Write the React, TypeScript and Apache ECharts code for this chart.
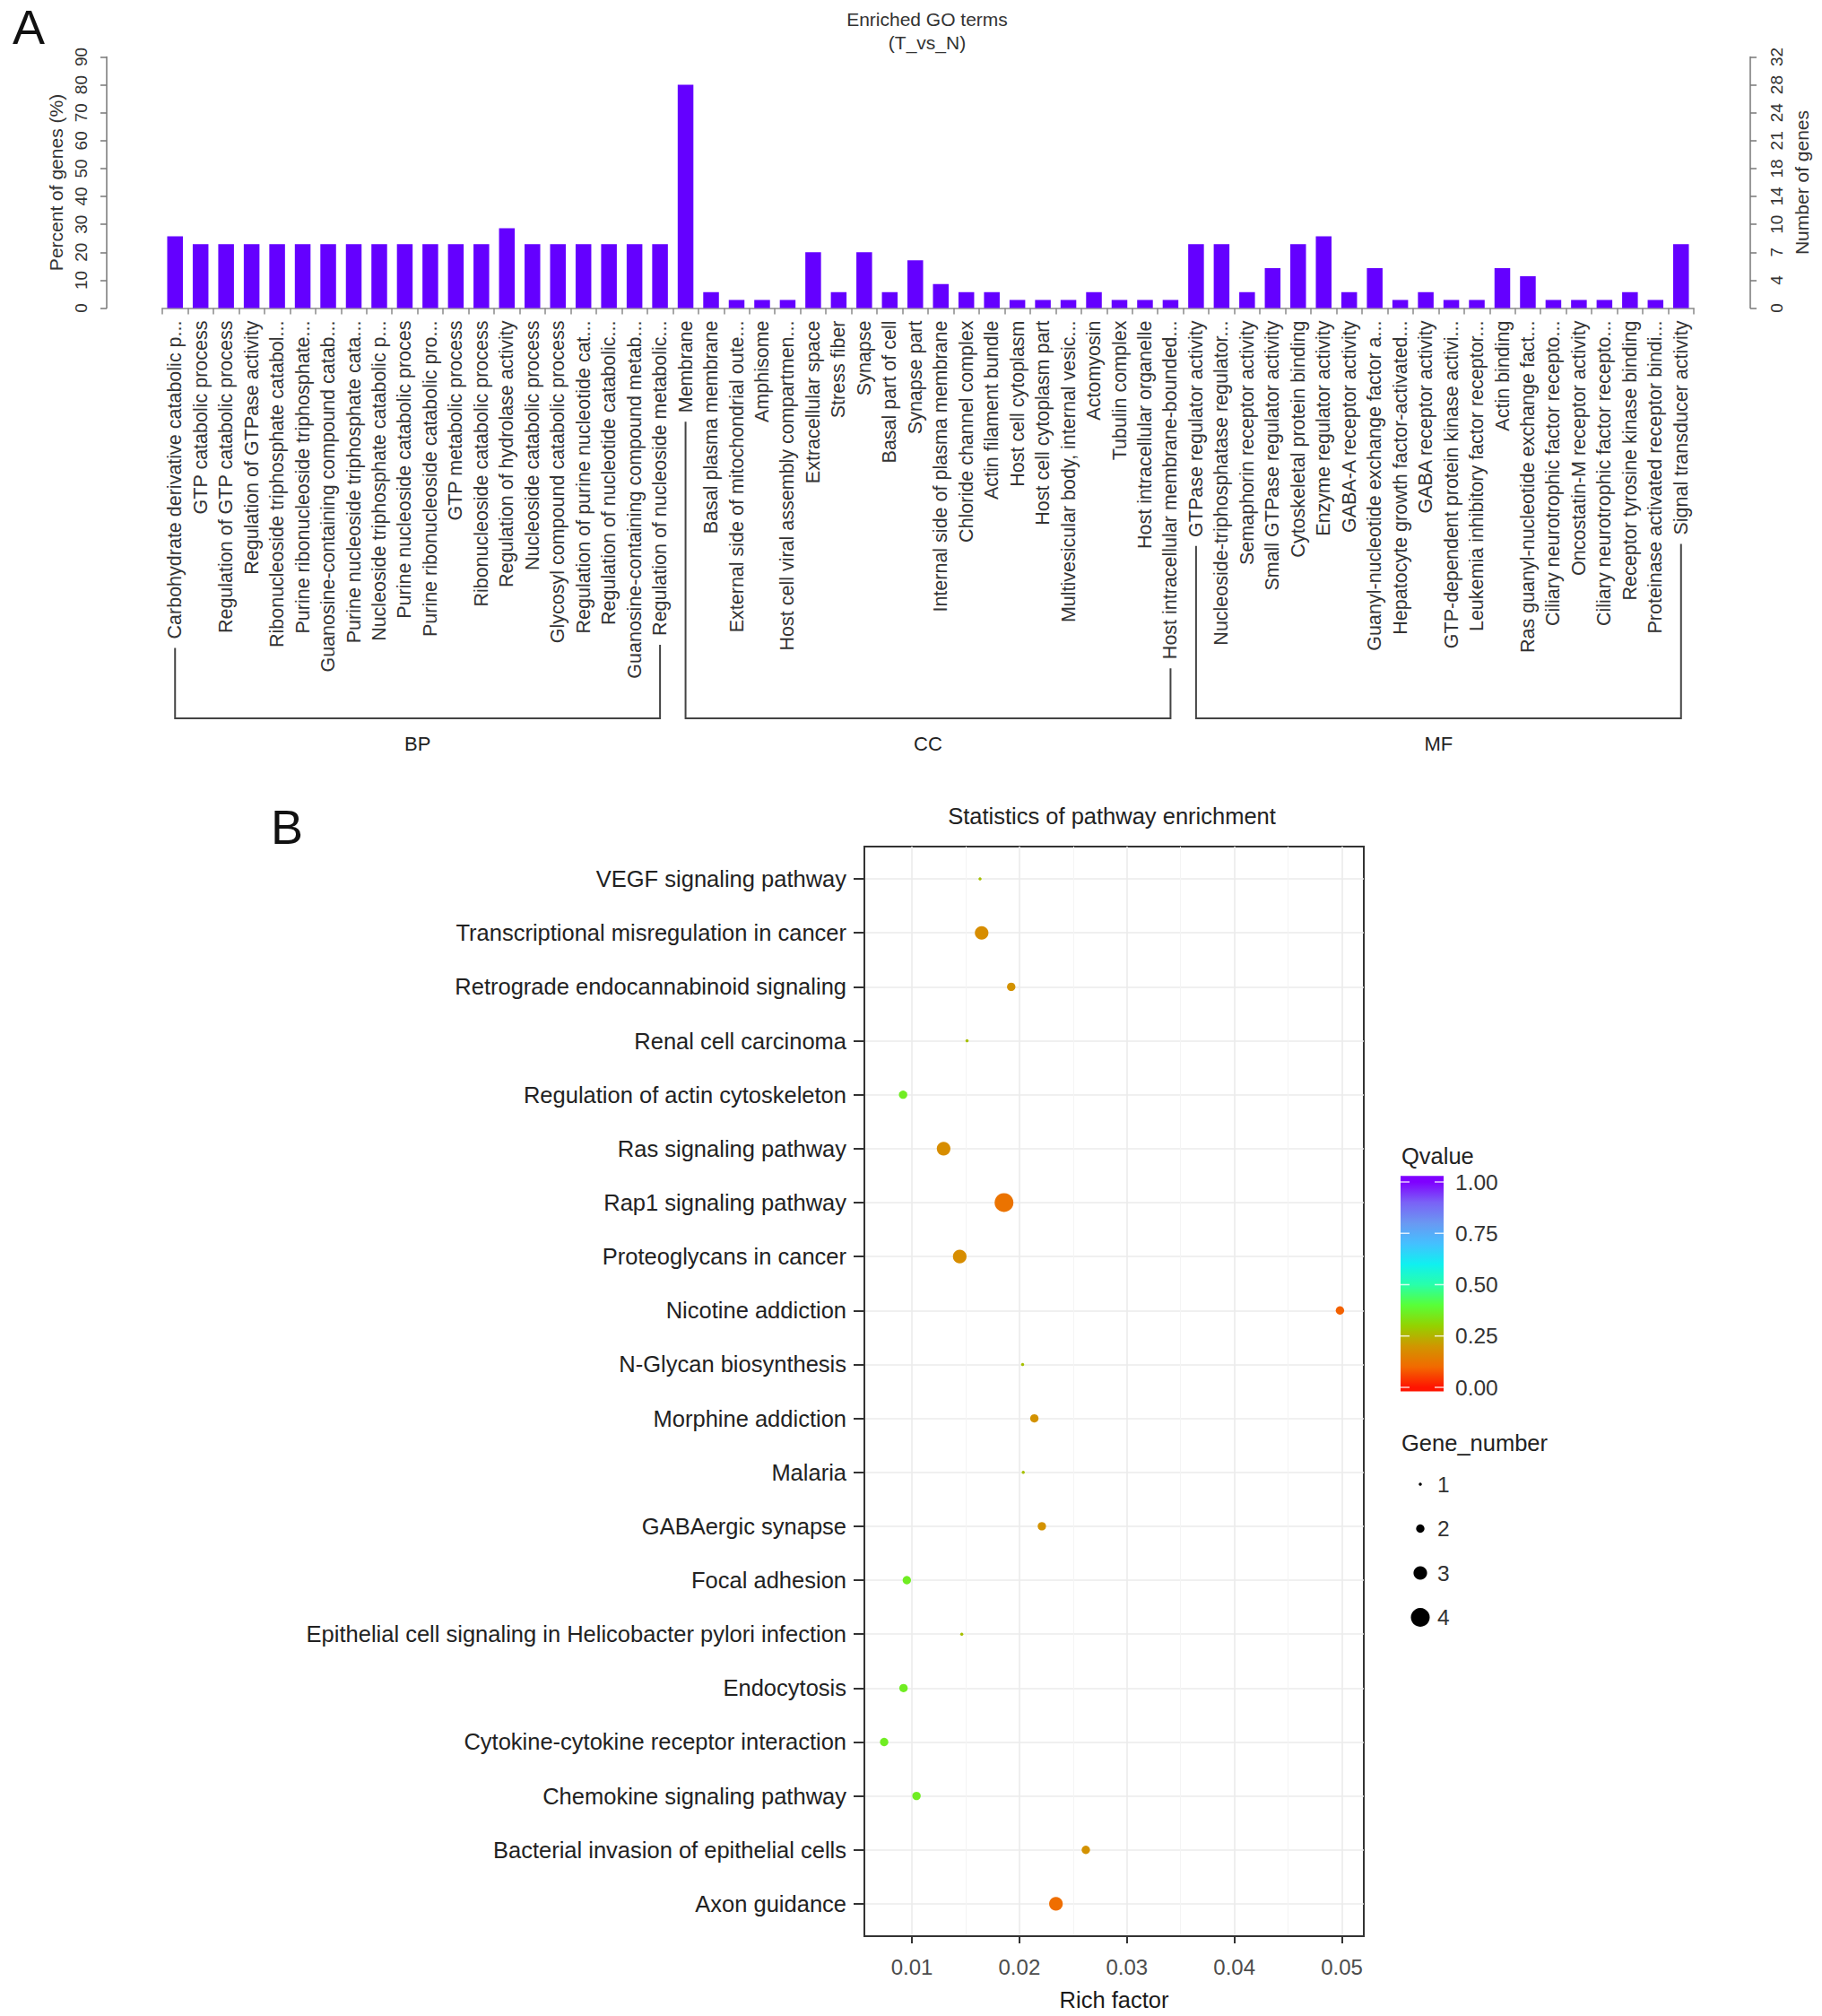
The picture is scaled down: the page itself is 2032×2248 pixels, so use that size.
import React, { useEffect, useRef } from "react";
import * as echarts from "echarts";

// ---------- Panel A data ----------
const goCategories = [
  "Carbohydrate derivative catabolic p...",
  "GTP catabolic process",
  "Regulation of GTP catabolic process",
  "Regulation of GTPase activity",
  "Ribonucleoside triphosphate catabol...",
  "Purine ribonucleoside triphosphate...",
  "Guanosine-containing compound catab...",
  "Purine nucleoside triphosphate cata...",
  "Nucleoside triphosphate catabolic p...",
  "Purine nucleoside catabolic proces",
  "Purine ribonucleoside catabolic pro...",
  "GTP metabolic process",
  "Ribonucleoside catabolic process",
  "Regulation of hydrolase activity",
  "Nucleoside catabolic process",
  "Glycosyl compound catabolic process",
  "Regulation of purine nucleotide cat...",
  "Regulation of nucleotide catabolic...",
  "Guanosine-containing compound metab...",
  "Regulation of nucleoside metabolic...",
  "Membrane",
  "Basal plasma membrane",
  "External side of mitochondrial oute...",
  "Amphisome",
  "Host cell viral assembly compartmen...",
  "Extracellular space",
  "Stress fiber",
  "Synapse",
  "Basal part of cell",
  "Synapse part",
  "Internal side of plasma membrane",
  "Chloride channel complex",
  "Actin filament bundle",
  "Host cell cytoplasm",
  "Host cell cytoplasm part",
  "Multivesicular body, internal vesic...",
  "Actomyosin",
  "Tubulin complex",
  "Host intracellular organelle",
  "Host intracellular membrane-bounded...",
  "GTPase regulator activity",
  "Nucleoside-triphosphatase regulator...",
  "Semaphorin receptor activity",
  "Small GTPase regulator activity",
  "Cytoskeletal protein binding",
  "Enzyme regulator activity",
  "GABA-A receptor activity",
  "Guanyl-nucleotide exchange factor a...",
  "Hepatocyte growth factor-activated...",
  "GABA receptor activity",
  "GTP-dependent protein kinase activi...",
  "Leukemia inhibitory factor receptor...",
  "Actin binding",
  "Ras guanyl-nucleotide exchange fact...",
  "Ciliary neurotrophic factor recepto...",
  "Oncostatin-M receptor activity",
  "Ciliary neurotrophic factor recepto...",
  "Receptor tyrosine kinase binding",
  "Proteinase activated receptor bindi...",
  "Signal transducer activity",
];

const goPercentBP = [25.7, 22.9, 22.9, 22.9, 22.9, 22.9, 22.9, 22.9, 22.9, 22.9, 22.9, 22.9, 22.9, 28.6, 22.9, 22.9, 22.9, 22.9, 22.9, 22.9];
const goPercentCC = [80, 5.7, 2.9, 2.9, 2.9, 20, 5.7, 20, 5.7, 17.1, 8.6, 5.7, 5.7, 2.9, 2.9, 2.9, 5.7, 2.9, 2.9, 2.9];
const goPercentMF = [22.9, 22.9, 5.7, 14.3, 22.9, 25.7, 5.7, 14.3, 2.9, 5.7, 2.9, 2.9, 14.3, 11.4, 2.9, 2.9, 2.9, 5.7, 2.9, 22.9];
const goPercent = [...goPercentBP, ...goPercentCC, ...goPercentMF];

const goGroupNames = ["BP", "CC", "MF"];
const goGroupSizes = [20, 20, 20];

const percentMax = 90;
const percentStep = 10;
const geneCountTickLabels = ["0", "4", "7", "10", "14", "18", "21", "24", "28", "32"];

// ---------- Panel B data (top to bottom as displayed) ----------
const pathways = [
  "VEGF signaling pathway",
  "Transcriptional misregulation in cancer",
  "Retrograde endocannabinoid signaling",
  "Renal cell carcinoma",
  "Regulation of actin cytoskeleton",
  "Ras signaling pathway",
  "Rap1 signaling pathway",
  "Proteoglycans in cancer",
  "Nicotine addiction",
  "N-Glycan biosynthesis",
  "Morphine addiction",
  "Malaria",
  "GABAergic synapse",
  "Focal adhesion",
  "Epithelial cell signaling in Helicobacter pylori infection",
  "Endocytosis",
  "Cytokine-cytokine receptor interaction",
  "Chemokine signaling pathway",
  "Bacterial invasion of epithelial cells",
  "Axon guidance",
];
const richFactor = [0.01634, 0.01649, 0.01924, 0.01513, 0.00918, 0.01295, 0.01857, 0.01445, 0.04982, 0.0203, 0.02139, 0.02036, 0.02209, 0.00953, 0.01464, 0.00922, 0.00742, 0.01043, 0.02618, 0.0234];
const geneNumber = [1, 3, 2, 1, 2, 3, 4, 3, 2, 1, 2, 1, 2, 2, 1, 2, 2, 2, 2, 3];
const qValue = [0.27, 0.18, 0.19, 0.27, 0.36, 0.18, 0.12, 0.18, 0.09, 0.27, 0.19, 0.27, 0.19, 0.36, 0.27, 0.36, 0.36, 0.36, 0.19, 0.11];

const richTicks = [0.01, 0.02, 0.03, 0.04, 0.05];
const richMinorTicks = [0.015, 0.025, 0.035, 0.045];
const qLegendTicks = [0, 0.25, 0.5, 0.75, 1];
const geneLegendValues = [1, 2, 3, 4];

export default function App() {
  const ref = useRef<HTMLDivElement>(null);

  useEffect(() => {
    const el = ref.current;
    if (!el) return;
    const chart = echarts.init(el, null, { renderer: "svg" });
    const font = "'Liberation Sans', Arial, Helvetica, sans-serif";
    const narrow = "'Liberation Sans Narrow', 'Liberation Sans', Arial, sans-serif";

    // colour scale (evenly spaced stops from 0 to 1)
    const qColors = [
      "#FF1400", "#F26A00", "#D09600", "#94D200", "#58FF38",
      "#28FFAA", "#10F0F0", "#44C0FF", "#6A98F2", "#7A62F6", "#7F00FF",
    ];
    const sizeFor = (n: number) => 3.5 + (n - 1) * 5.85;

    const yIdx = pathways.map((_, i) => i);
    const nameAt = (v: number) => {
      const i = Math.round(v);
      return pathways[pathways.length - 1 - i] ?? "";
    };

    const labelFontA = 21.5;
    const labelMarginA = 14;

    const option: any = {
      animation: false,
      backgroundColor: "#ffffff",
      textStyle: { fontFamily: font },
      grid: [
        { left: 181, top: 63.5, width: 1708, height: 280, containLabel: false },
        {
          left: 964, top: 944, width: 557, height: 1218, containLabel: false,
          show: true, borderColor: "#333333", borderWidth: 2, backgroundColor: "transparent",
        },
      ],
      xAxis: [
        {
          type: "category", gridIndex: 0, data: goCategories,
          axisLine: { lineStyle: { color: "#8a8a8a", width: 1.5 } },
          axisTick: { show: true, length: 7, lineStyle: { color: "#8a8a8a", width: 1.5 } },
          axisLabel: {
            interval: 0, rotate: 90, fontSize: labelFontA, color: "#333333",
            margin: labelMarginA, fontFamily: font,
          },
          splitLine: { show: false },
        },
        {
          type: "value", gridIndex: 1, min: 0.00558, max: 0.05204,
          axisLine: { show: true, onZero: false, lineStyle: { color: "#333333", width: 2 } },
          axisTick: { show: true, customValues: richTicks, length: 8, lineStyle: { color: "#333333", width: 2 } },
          axisLabel: {
            customValues: richTicks, formatter: (v: number) => v.toFixed(2),
            fontSize: 24, color: "#4d4d4d", margin: 22, fontFamily: font,
          },
          splitLine: { show: true, lineStyle: { color: "#EBEBEB", width: 1.6 } },
          name: "Rich factor", nameLocation: "middle", nameGap: 58,
          nameTextStyle: { fontSize: 25.5, color: "#1a1a1a", fontFamily: font },
        },
        {
          type: "value", gridIndex: 1, min: 0.00558, max: 0.05204,
          axisLine: { show: false, onZero: false },
          axisTick: { show: false, customValues: richMinorTicks },
          axisLabel: { show: false, customValues: richMinorTicks },
          splitLine: { show: true, lineStyle: { color: "#F4F4F4", width: 1 } },
        },
      ],
      yAxis: [
        {
          type: "value", gridIndex: 0, position: "left", offset: 62,
          min: 0, max: percentMax, interval: percentStep,
          axisLine: { show: true, lineStyle: { color: "#777777", width: 1.5 } },
          axisTick: { show: true, length: 7, lineStyle: { color: "#777777", width: 1.5 } },
          axisLabel: { rotate: 90, fontSize: 19, color: "#333333", margin: 19, fontFamily: font },
          splitLine: { show: false },
          name: "Percent of genes (%)", nameLocation: "middle", nameRotate: 90, nameGap: 43,
          nameTextStyle: { fontSize: 21, color: "#333333", fontFamily: font },
        },
        {
          type: "value", gridIndex: 0, position: "right", offset: 63,
          min: 0, max: percentMax, interval: percentStep,
          axisLine: { show: true, lineStyle: { color: "#777777", width: 1.5 } },
          axisTick: { show: true, length: 7, lineStyle: { color: "#777777", width: 1.5 } },
          axisLabel: {
            rotate: 90, fontSize: 19, color: "#333333", margin: 20, fontFamily: font,
            formatter: (v: number) => geneCountTickLabels[Math.round(v / percentStep)] ?? "",
          },
          splitLine: { show: false },
          name: "Number of genes", nameLocation: "middle", nameRotate: 90, nameGap: 46,
          nameTextStyle: { fontSize: 21, color: "#333333", fontFamily: font },
        },
        {
          type: "value", gridIndex: 1, min: -0.6, max: pathways.length - 0.4,
          axisLine: { show: true, onZero: false, lineStyle: { color: "#333333", width: 2 } },
          axisTick: { show: true, customValues: yIdx, length: 12, lineStyle: { color: "#333333", width: 2 } },
          axisLabel: {
            customValues: yIdx, formatter: (v: number) => nameAt(v),
            fontSize: 25.5, color: "#222222", margin: 20, fontFamily: font,
          },
          splitLine: { show: true, lineStyle: { color: "#EBEBEB", width: 1.6 } },
        },
      ],
      visualMap: [
        {
          type: "continuous", show: false, seriesIndex: 1, dimension: 3,
          min: 0, max: 1, inRange: { color: qColors },
        },
      ],
      series: [
        {
          type: "bar", xAxisIndex: 0, yAxisIndex: 0, data: goPercent,
          barWidth: 17.5, itemStyle: { color: "#6400FF" }, silent: true,
        },
        {
          type: "scatter", xAxisIndex: 1, yAxisIndex: 2, z: 5,
          data: pathways.map((_, i) => [richFactor[i], pathways.length - 1 - i, geneNumber[i], qValue[i]]),
          symbolSize: (v: number[]) => sizeFor(v[2]),
          itemStyle: { opacity: 1 },
          silent: true,
        },
      ],
    };

    chart.setOption(option);

    // ---------- graphics ----------
    const ctx = document.createElement("canvas").getContext("2d")!;
    ctx.font = `${labelFontA}px 'Liberation Sans'`;
    const textW = (t: string) => ctx.measureText(t).width;

    const axisY = chart.convertToPixel({ yAxisIndex: 0 }, 0) as number;
    const bracketY = 801;
    const g: any[] = [];

    let start = 0;
    goGroupNames.forEach((name, gi) => {
      const i0 = start;
      const i1 = start + goGroupSizes[gi] - 1;
      start += goGroupSizes[gi];
      const x0 = chart.convertToPixel({ xAxisIndex: 0 }, i0) as number;
      const x1 = chart.convertToPixel({ xAxisIndex: 0 }, i1) as number;
      const y0 = axisY + labelMarginA + textW(goCategories[i0]) + 10;
      const y1 = axisY + labelMarginA + textW(goCategories[i1]) + 10;
      g.push({
        type: "polyline", silent: true,
        shape: { points: [[x0, y0], [x0, bracketY], [x1, bracketY], [x1, y1]] },
        style: { stroke: "#444444", lineWidth: 2, fill: null },
      });
      g.push({
        type: "text", silent: true, x: (x0 + x1) / 2, y: 829,
        style: { text: name, fontSize: 22, fill: "#222222", fontFamily: font, align: "center", verticalAlign: "middle" },
      });
    });

    // panel letters and titles
    g.push({ type: "text", silent: true, x: 14, y: 30, style: { text: "A", fontSize: 54, fill: "#111", fontFamily: narrow, align: "left", verticalAlign: "middle" } });
    g.push({ type: "text", silent: true, x: 302, y: 922, style: { text: "B", fontSize: 54, fill: "#111", fontFamily: font, align: "left", verticalAlign: "middle" } });
    g.push({ type: "text", silent: true, x: 1034, y: 21, style: { text: "Enriched GO terms", fontSize: 21, fill: "#333", fontFamily: narrow, align: "center", verticalAlign: "middle" } });
    g.push({ type: "text", silent: true, x: 1034, y: 47, style: { text: "(T_vs_N)", fontSize: 21, fill: "#333", fontFamily: narrow, align: "center", verticalAlign: "middle" } });
    g.push({ type: "text", silent: true, x: 1240, y: 910, style: { text: "Statistics of pathway enrichment", fontSize: 25.5, fill: "#222", fontFamily: font, align: "center", verticalAlign: "middle" } });

    // Qvalue colour bar legend
    const barX = 1562, barW = 48;
    const q0Y = 1547, qSpan = 229;
    const qy = (q: number) => q0Y - q * qSpan;
    const barTop = qy(1.03), barBottom = qy(-0.02);
    const stops = qColors.map((c, i) => {
      const q = i / (qColors.length - 1);
      return { offset: (qy(q) - barTop) / (barBottom - barTop), color: c };
    }).reverse();
    g.push({ type: "text", silent: true, x: 1563, y: 1289, style: { text: "Qvalue", fontSize: 25.5, fill: "#222", fontFamily: font, align: "left", verticalAlign: "middle" } });
    g.push({
      type: "rect", silent: true,
      shape: { x: barX, y: barTop, width: barW, height: barBottom - barTop },
      style: { fill: new echarts.graphic.LinearGradient(0, 0, 0, 1, [{ offset: 0, color: qColors[qColors.length - 1] }, ...stops.filter((s) => s.offset > 0 && s.offset < 1), { offset: 1, color: qColors[0] }]) },
    });
    qLegendTicks.forEach((q) => {
      const y = qy(q);
      g.push({ type: "line", silent: true, shape: { x1: barX, y1: y, x2: barX + 10, y2: y }, style: { stroke: "#ffffff", lineWidth: 1.5, opacity: 0.8 } });
      g.push({ type: "line", silent: true, shape: { x1: barX + barW - 10, y1: y, x2: barX + barW, y2: y }, style: { stroke: "#ffffff", lineWidth: 1.5, opacity: 0.8 } });
      g.push({ type: "text", silent: true, x: 1623, y, style: { text: q.toFixed(2), fontSize: 24.5, fill: "#333", fontFamily: font, align: "left", verticalAlign: "middle" } });
    });

    // Gene_number size legend
    g.push({ type: "text", silent: true, x: 1563, y: 1609, style: { text: "Gene_number", fontSize: 25.5, fill: "#222", fontFamily: font, align: "left", verticalAlign: "middle" } });
    geneLegendValues.forEach((n, i) => {
      const y = 1655 + i * 49.5;
      g.push({ type: "circle", silent: true, shape: { cx: 1584, cy: y, r: sizeFor(n) / 2 }, style: { fill: "#000" } });
      g.push({ type: "text", silent: true, x: 1603, y, style: { text: String(n), fontSize: 24.5, fill: "#333", fontFamily: font, align: "left", verticalAlign: "middle" } });
    });

    chart.setOption({ graphic: g });

    return () => chart.dispose();
  }, []);

  return (
    <div
      ref={ref}
      style={{ position: "absolute", left: 0, top: 0, width: 2032, height: 2248, background: "#fff" }}
    />
  );
}
